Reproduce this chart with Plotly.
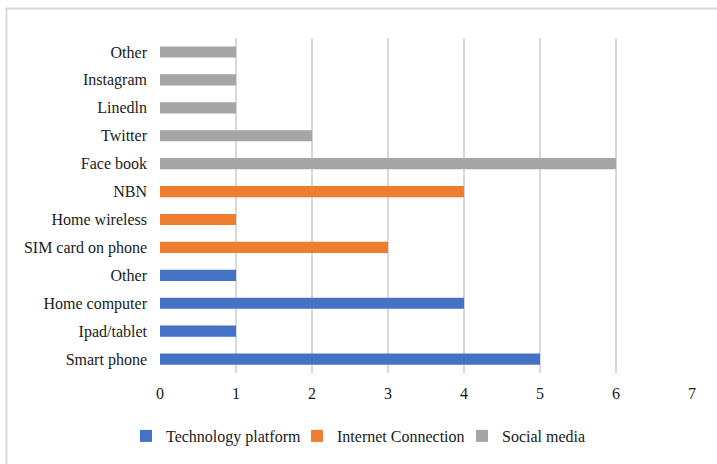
import plotly.graph_objects as go

# Categories bottom -> top
tech_labels = ["Smart phone", "Ipad/tablet", "Home computer", "Other"]
tech_values = [5, 1, 4, 1]
net_labels = ["SIM card on phone", "Home wireless", "NBN"]
net_values = [3, 1, 4]
social_labels = ["Face book", "Twitter", "Linedln", "Instagram", "Other"]
social_values = [6, 2, 1, 1, 1]
x_ticks = [0, 1, 2, 3, 4, 5, 6, 7]

all_labels = tech_labels + net_labels + social_labels
tech_pos = list(range(0, len(tech_labels)))
net_pos = list(range(len(tech_labels), len(tech_labels) + len(net_labels)))
social_pos = list(range(len(tech_labels) + len(net_labels), len(all_labels)))

FONT = "Liberation Serif"

fig = go.Figure()
fig.add_trace(go.Bar(y=tech_pos, x=tech_values, orientation="h", name="Technology platform",
                     marker=dict(color="#4472C4", line=dict(width=0)), width=0.4,
                     legend="legend"))
fig.add_trace(go.Bar(y=net_pos, x=net_values, orientation="h", name="Internet Connection",
                     marker=dict(color="#ED7D31", line=dict(width=0)), width=0.4,
                     legend="legend2"))
fig.add_trace(go.Bar(y=social_pos, x=social_values, orientation="h", name="Social media",
                     marker=dict(color="#A5A5A5", line=dict(width=0)), width=0.4,
                     legend="legend3"))

W, H = 717, 464
ml, mr, mt, mb = 160, 25, 38, 90
pw, ph = W - ml - mr, H - mt - mb


def leg(text_start_px):
    return dict(orientation="h", x=(text_start_px - 40 - ml) / pw, xanchor="left",
                y=-(436 - (mt + ph)) / ph, yanchor="middle",
                font=dict(family=FONT, size=16, color="#1a1a1a"),
                itemwidth=30, bgcolor="rgba(0,0,0,0)")


fig.update_layout(
    width=W, height=H,
    margin=dict(l=ml, r=mr, t=mt, b=mb),
    paper_bgcolor="white", plot_bgcolor="white",
    font=dict(family=FONT, size=16, color="#1a1a1a"),
    barmode="overlay",
    showlegend=True,
    legend=leg(166),
    legend2=leg(337),
    legend3=leg(502),
    xaxis=dict(range=[0, 7], tickvals=x_ticks, showgrid=True, gridcolor="#D9D9D9",
               gridwidth=1.5, zeroline=False, showline=False, ticks="",
               ticklabelstandoff=9, fixedrange=True),
    yaxis=dict(range=[-0.5, len(all_labels) - 0.5], tickvals=list(range(len(all_labels))),
               ticktext=all_labels, showgrid=False, zeroline=False, showline=False,
               ticks="", ticklabelstandoff=12, fixedrange=True),
    shapes=[dict(type="rect", xref="paper", yref="paper",
                 x0=(6.5 - ml) / pw, x1=(W + 20 - ml) / pw,
                 y0=-(H + 20 - mt - ph) / ph, y1=1 + (mt - 8.5) / ph,
                 line=dict(color="#D9D9D9", width=2), fillcolor="rgba(0,0,0,0)", layer="below")],
)

fig.write_html("out.html")
